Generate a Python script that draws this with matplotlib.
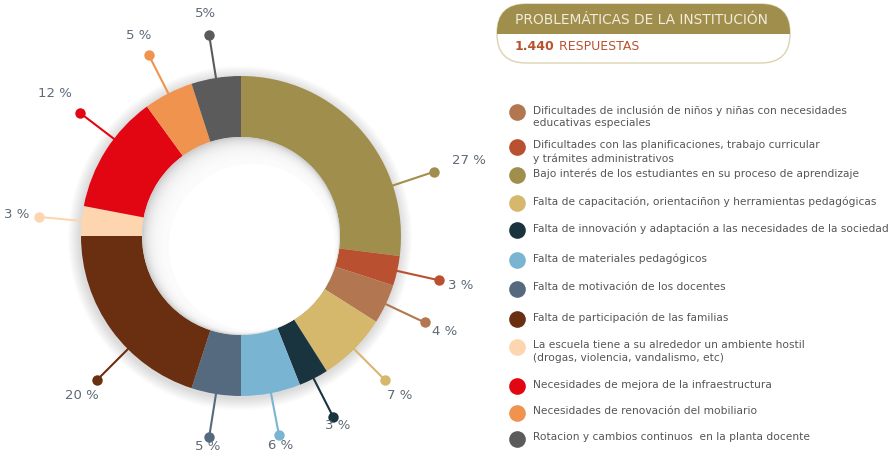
import numpy as np
import matplotlib
matplotlib.use('Agg')
from matplotlib import pyplot as plt
from matplotlib.patches import FancyBboxPatch, Rectangle, Circle

categories = [
	"Dificultades de inclusión de niños y niñas con necesidades\neducativas especiales",
	"Dificultades con las planificaciones, trabajo curricular\ny trámites administrativos",
	"Bajo interés de los estudiantes en su proceso de aprendizaje",
	"Falta de capacitación, orientaciñon y herramientas pedagógicas",
	"Falta de innovación y adaptación a las necesidades de la sociedad",
	"Falta de materiales pedagógicos",
	"Falta de motivación de los docentes",
	"Falta de participación de las familias",
	"La escuela tiene a su alrededor un ambiente hostil\n(drogas, violencia, vandalismo, etc)",
	"Necesidades de mejora de la infraestructura",
	"Necesidades de renovación del mobiliario",
	"Rotacion y cambios continuos  en la planta docente",
]
values = [4, 3, 27, 7, 3, 6, 5, 20, 3, 12, 5, 5]
value_labels = ["4 %", "3 %", "27 %", "7 %", "3 %", "6 %", "5 %", "20 %", "3 %", "12 %", "5 %", "5%"]
colors = ['#b27650', '#b9502f', '#a08f4c', '#d5b86b', '#19343f', '#7ab4d3',
          '#566a7f', '#6a2e10', '#fdd6b0', '#e20613', '#f0934e', '#5b5b5b']
# order of the slices, clockwise from the top
pie_order = [2, 1, 0, 3, 4, 5, 6, 7, 8, 9, 10, 11]

title = "PROBLEMÁTICAS DE LA INSTITUCIÓN"
total = "1.440"

W, H = 888, 451
fig = plt.figure(figsize=(W / 100, H / 100), dpi=100)
ax = fig.add_axes([0, 0, 1, 1])

cx, cy = 241, H - 236
r_out, width = 160, 61
r_in = r_out - width

# soft shadow around the ring
for i in range(12):
	ax.add_patch(Circle((cx - 1, cy - 2), r_out + 12 - i, color='black', alpha=0.012, lw=0, zorder=0))

vals = [values[i] for i in pie_order]
cols = [colors[i] for i in pie_order]
wedges, _ = ax.pie(vals, colors=cols, startangle=90, counterclock=False,
                   radius=r_out, center=(cx, cy),
                   wedgeprops=dict(width=width, linewidth=0), frame=True)

# inner shadow in the hole (darker at the upper left)
ax.add_patch(Circle((cx, cy), r_in, color='#cfcfcf', lw=0, zorder=3))
for i in range(1, 16):
	o = 0.7 * i
	ax.add_patch(Circle((cx + o, cy - o), r_in - 1.0 * i, color='white', alpha=0.22, lw=0, zorder=3))
ax.add_patch(Circle((cx + 11, cy - 11), r_in - 16, color='white', lw=0, zorder=3))

# leader lines, dots and labels
label_shift = {2: -23, 7: 9, 9: -5}
label_r = {2: 240, 9: 234}
for w, idx in zip(wedges, pie_order):
	ang = (w.theta1 + w.theta2) / 2 + label_shift.get(idx, 0)
	a = np.deg2rad(ang)
	ux, uy = np.cos(a), np.sin(a)
	ax.plot([cx + ux * (r_out - 1), cx + ux * 203], [cy + uy * (r_out - 1), cy + uy * 203],
	        color=colors[idx], lw=1.5, zorder=4, solid_capstyle='butt')
	ax.plot(cx + ux * 203, cy + uy * 203, 'o', ms=7.5, color=colors[idx], mec='none', zorder=5)
	rt = label_r.get(idx, 225 if uy > -0.8 else 213)
	ax.text(cx + ux * rt, cy + uy * rt, value_labels[idx], ha='center', va='center',
	        fontsize=9.5, color='#5e6a76', zorder=5)

# header box
bx0, bx1, by0, by1 = 497, 790, H - 63, H - 4
box = FancyBboxPatch((bx0, by0), bx1 - bx0, by1 - by0, boxstyle="round,pad=0,rounding_size=29",
                     fc='white', ec='#ddd3b0', lw=1.0, zorder=2)
ax.add_patch(box)
top = FancyBboxPatch((bx0, by0), bx1 - bx0, by1 - by0, boxstyle="round,pad=0,rounding_size=29",
                     fc='#a08f4c', ec='none', zorder=3)
ax.add_patch(top)
clip = Rectangle((bx0 - 5, H - 34), bx1 - bx0 + 10, 40, transform=ax.transData)
top.set_clip_path(clip)
ax.text(515, H - 20, title, fontsize=9.9, color='#f1ecdc', va='center', ha='left', zorder=4)
t = ax.text(515, H - 46, total, fontsize=9, color='#b8532f', fontweight='bold', va='center', ha='left', zorder=4)
ax.annotate(" RESPUESTAS", xycoords=t, xy=(1, 0), va='bottom', ha='left', fontsize=9, color='#b8532f', zorder=4)

# legend
leg_y = [112, 147, 175, 203, 230, 260, 289, 319, 347, 386, 413, 439]
for i, y in enumerate(leg_y):
	ax.plot(517, H - y, 'o', ms=12, color=colors[i], mec='none')
	ax.text(533, H - y + 6.5, categories[i], fontsize=7.7, color='#555555', va='top', ha='left',
	        linespacing=1.3)

ax.set_xlim(0, W)
ax.set_ylim(0, H)
ax.set_aspect('auto')
ax.axis('off')

plt.savefig('out.png', dpi=100)
